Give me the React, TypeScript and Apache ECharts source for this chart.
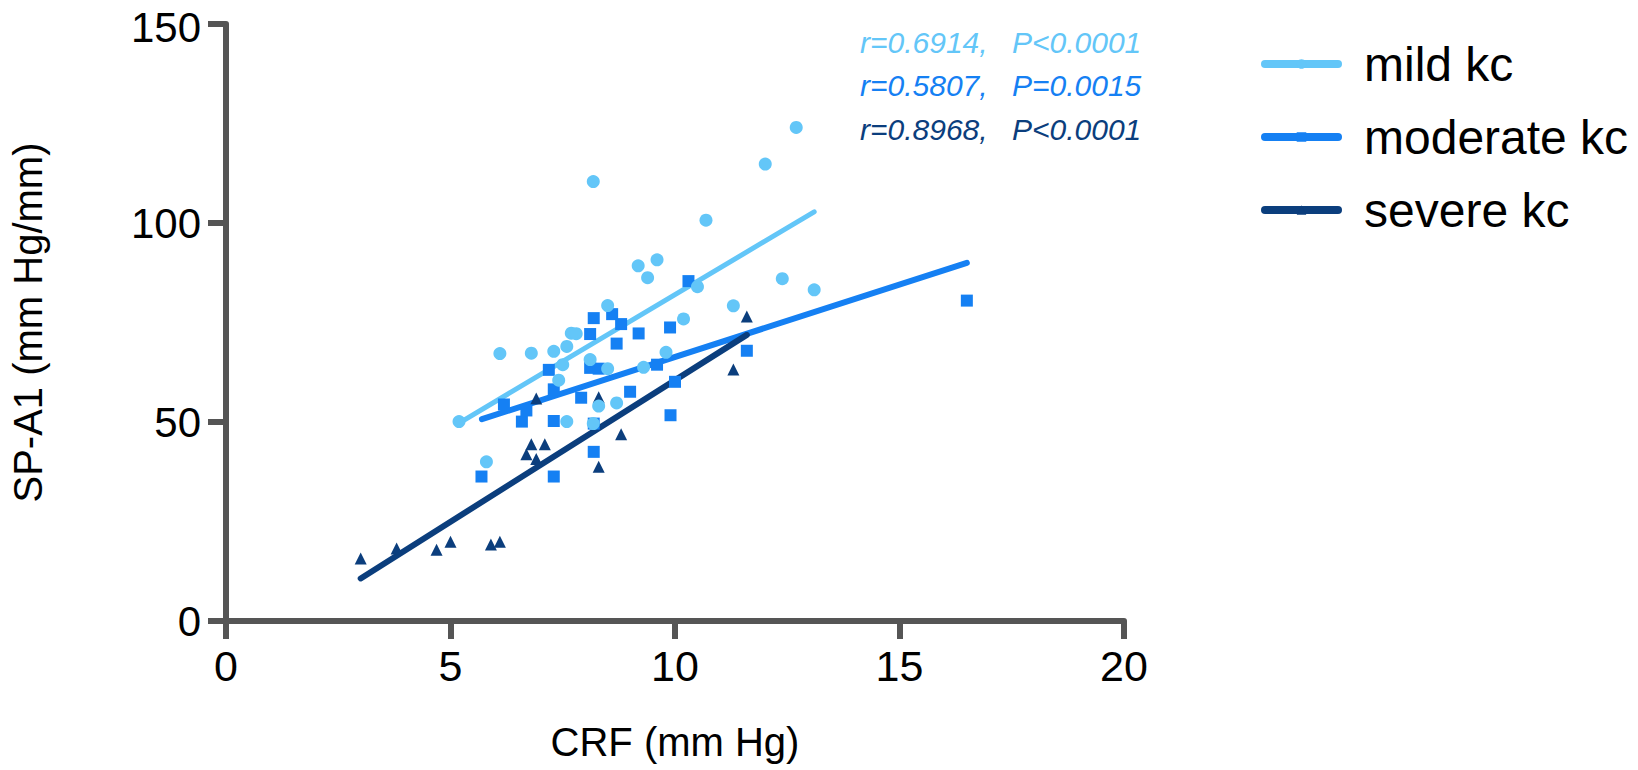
import React, { useEffect, useRef } from "react";
import * as echarts from "echarts";

// ---- data ----
const seriesNames = ["mild kc", "moderate kc", "severe kc"];
const seriesColors = ["#63C6F8", "#1580F3", "#0B3E7D"];

const mildPoints: number[][] = [
  [5.19, 50.1], [5.8, 40], [6.1, 67.2], [6.8, 67.3], [7.3, 67.75], [7.41, 60.5],
  [7.5, 64.4], [7.59, 69], [7.59, 50.1], [7.69, 72.3], [7.8, 72.2], [8.11, 65.7],
  [8.18, 49.6], [8.18, 110.4], [8.3, 54], [8.5, 79.25], [8.5, 63.4], [8.7, 54.8],
  [9.18, 89.25], [9.3, 63.75], [9.39, 86.25], [9.6, 90.75], [9.8, 67.5], [10.19, 75.9],
  [10.5, 84], [10.69, 100.7], [11.3, 79.2], [12.01, 114.8], [12.39, 86], [12.7, 124],
  [13.1, 83.2],
];

const moderatePoints: number[][] = [
  [5.69, 36.3], [6.19, 54.4], [6.59, 50.1], [6.69, 52.9], [7.19, 63.1], [7.3, 58.2],
  [7.3, 50.25], [7.3, 36.3], [7.91, 56.1], [8.11, 72.1], [8.11, 63.6], [8.19, 76.1],
  [8.19, 49.6], [8.19, 42.5], [8.3, 63.4], [8.6, 77.1], [8.7, 69.7], [8.8, 74.6],
  [9.0, 57.6], [9.19, 72.25], [9.6, 64.4], [9.89, 73.75], [9.9, 51.7], [10.0, 60.1],
  [10.3, 85.4], [11.6, 67.9], [16.5, 80.5],
];

const severePoints: number[][] = [
  [3.0, 15.7], [3.8, 18.2], [4.69, 17.9], [5.0, 19.9], [5.9, 19.25], [6.1, 19.9],
  [6.69, 41.9], [6.8, 44.4], [6.91, 40.7], [6.91, 55.9], [7.1, 44.4], [8.3, 56.25],
  [8.3, 38.75], [8.8, 46.9], [11.3, 63.2], [11.6, 76.5],
];

// regression line end points
const mildFit: number[][] = [[5.2, 49.8], [13.1, 102.8]];
const moderateFit: number[][] = [[5.7, 50.7], [16.5, 90.0]];
const severeFit: number[][] = [[3.0, 10.7], [11.6, 71.9]];

const xTicks = { min: 0, max: 20, interval: 5 };
const yTicks = { min: 0, max: 150, interval: 50 };

const statR = ["r=0.6914,", "r=0.5807,", "r=0.8968,"];
const statP = ["P<0.0001", "P=0.0015", "P<0.0001"];

const xTitle = "CRF (mm Hg)";
const yTitle = "SP-A1 (mm Hg/mm)";

const FONT = "'Liberation Sans', Arial, Helvetica, sans-serif";
const AXIS_COLOR = "#555555";

export default function App() {
  const ref = useRef<HTMLDivElement>(null);

  useEffect(() => {
    if (!ref.current) return;
    const chart = echarts.init(ref.current, undefined, { renderer: "svg" });

    const fits = [mildFit, moderateFit, severeFit];
    const points = [mildPoints, moderatePoints, severePoints];
    const symbols = ["circle", "rect", "triangle"];
    const sizes = [13, 12, 12];
    const lineWidths = [5, 6, 6];

    const lineSeries = fits.map((fit, i) => ({
      name: seriesNames[i],
      type: "line",
      data: fit,
      symbol: symbols[i],
      showSymbol: false,
      z: 2,
      itemStyle: { color: seriesColors[i] },
      lineStyle: { color: seriesColors[i], width: lineWidths[i], cap: "round" },
      silent: true,
    }));

    // severe at bottom, mild on top
    const scatterOrder = [2, 1, 0];
    const scatterSeries = scatterOrder.map((i) => ({
      name: seriesNames[i] + " data",
      type: "scatter",
      data: points[i],
      symbol: symbols[i],
      symbolSize: sizes[i],
      z: 3,
      itemStyle: { color: seriesColors[i], opacity: 1 },
    }));

    const statTexts: any[] = [];
    const rowY = [42, 85, 129];
    for (let i = 0; i < 3; i++) {
      statTexts.push({
        type: "text",
        x: 860,
        y: rowY[i],
        style: {
          text: statR[i],
          font: `italic 30px ${FONT}`,
          fill: seriesColors[i],
          textAlign: "left",
          textVerticalAlign: "middle",
        },
      });
      statTexts.push({
        type: "text",
        x: 1012,
        y: rowY[i],
        style: {
          text: statP[i],
          font: `italic 30px ${FONT}`,
          fill: seriesColors[i],
          textAlign: "left",
          textVerticalAlign: "middle",
        },
      });
    }

    chart.setOption({
      animation: false,
      backgroundColor: "#ffffff",
      grid: { left: 224, right: 514, top: 21, bottom: 149, containLabel: false },
      legend: {
        data: seriesNames,
        orient: "vertical",
        left: 1256,
        top: 35,
        itemWidth: 73,
        itemHeight: 12,
        itemGap: 25,
        lineStyle: { width: 8, cap: "round" },
        textStyle: {
          fontFamily: FONT,
          fontSize: 48,
          color: "#000000",
          padding: [0, 0, 0, 21],
        },
      },
      xAxis: {
        type: "value",
        min: xTicks.min,
        max: xTicks.max,
        interval: xTicks.interval,
        name: xTitle,
        nameLocation: "middle",
        nameGap: 101,
        nameTextStyle: { fontFamily: FONT, fontSize: 40, color: "#000000" },
        axisLine: { show: true, lineStyle: { color: AXIS_COLOR, width: 6 } },
        axisTick: { show: true, length: 18, lineStyle: { color: AXIS_COLOR, width: 6 } },
        axisLabel: { fontFamily: FONT, fontSize: 43, lineHeight: 40, color: "#000000", margin: 25 },
        splitLine: { show: false },
      },
      yAxis: {
        type: "value",
        min: yTicks.min,
        max: yTicks.max,
        interval: yTicks.interval,
        name: yTitle,
        nameLocation: "middle",
        nameGap: 178,
        nameTextStyle: { fontFamily: FONT, fontSize: 40, color: "#000000" },
        axisLine: { show: true, lineStyle: { color: AXIS_COLOR, width: 6 } },
        axisTick: { show: true, length: 18, lineStyle: { color: AXIS_COLOR, width: 6 } },
        axisLabel: {
          fontFamily: FONT,
          fontSize: 42,
          lineHeight: 36,
          color: "#000000",
          margin: 25,
          formatter: (v: number) => (v === yTicks.max ? `{top|${v}}` : `${v}`),
          rich: {
            top: {
              fontFamily: FONT,
              fontSize: 42,
              lineHeight: 36,
              color: "#000000",
              padding: [6, 0, 0, 0],
            },
          },
        },
        splitLine: { show: false },
      },
      graphic: statTexts,
      series: [...lineSeries, ...scatterSeries],
    });

    return () => chart.dispose();
  }, []);

  return (
    <div
      ref={ref}
      style={{ position: "absolute", left: 0, top: 0, width: 1638, height: 770 }}
    />
  );
}
